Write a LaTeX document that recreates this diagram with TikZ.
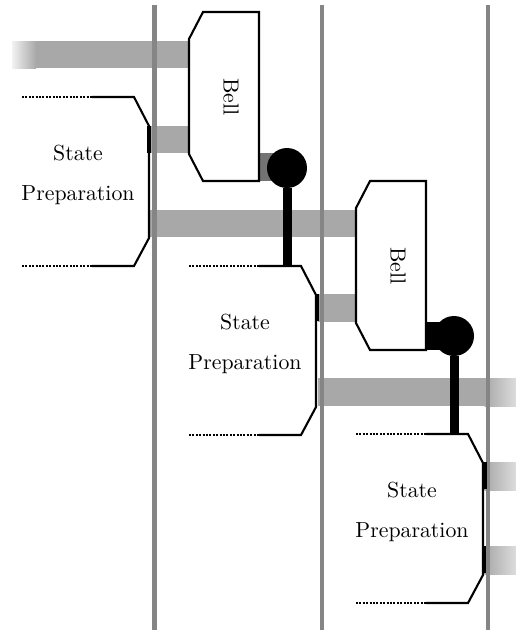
\documentclass[tikz,border=0pt]{standalone}
\definecolor{bandgray}{gray}{0.66}
\definecolor{railgray}{gray}{0.52}
\tikzset{
  lbl/.style={font=\normalsize,scale=2.18,inner sep=0pt},
  blockline/.style={line width=2.1pt,line join=miter},
  dotline/.style={line width=2.2pt,dash pattern=on 2pt off 1.4pt},
  bulb/.style={circle,fill=black,minimum size=40pt,inner sep=0pt},
  stem/.style={line width=9pt}
}
% #1 left end, #2 top, #3 name
\newcommand{\SPblock}[3]{
  \draw[dotline] (#1,#2)--(#1+70,#2);
  \draw[dotline] (#1,#2+169)--(#1+70,#2+169);
  \draw[blockline] (#1+70,#2)--(#1+112,#2)--(#1+127,#2+29)--(#1+127,#2+141)--(#1+112,#2+169)--(#1+70,#2+169);
  \coordinate (#3top) at (#1+98,#2);
  \node[lbl] (#3a) at (#1+56,#2+56) {State};
  \node[lbl] (#3b) at (#1+56,#2+98) {Preparation};
}
% #1 left, #2 top, #3 name
\newcommand{\BellBlock}[3]{
  \filldraw[blockline,fill=white] (#1+14,#2)--(#1+70,#2)--(#1+70,#2+169)--(#1+14,#2+169)--(#1,#2+142)--(#1,#2+27)--cycle;
  \node[lbl,rotate=-90] (#3) at (#1+42,#2+85) {Bell};
}
\newcommand{\Band}[4]{\fill[bandgray] (#1,#2) rectangle (#3,#4);}

\begin{document}
\begin{tikzpicture}[x=1pt,y=-1pt]
  \useasboundingbox (0,0) rectangle (516,630);
  % bands
  \fill[left color=bandgray!15,right color=bandgray] (12,41) rectangle (36,68);
  \Band{35.5}{41}{189}{68}
  \Band{150}{126}{189}{153}
  \Band{150}{210}{356}{237}
  \Band{318}{294}{356}{322}
  \Band{318}{378}{485}{406}
  \fill[left color=bandgray,right color=bandgray!25] (484.5,378) rectangle (524,406);
  \fill[left color=bandgray,right color=bandgray!25] (484.5,462) rectangle (524,490);
  \fill[left color=bandgray,right color=bandgray!25] (484.5,546) rectangle (524,574);
  \fill[black!55] (259,153) rectangle (280,181);
  % rails
  \foreach\x in{154.5,322,488}{\draw[railgray,line width=4.5pt] (\x,5)--(\x,630);}
  % blocks
  \SPblock{22}{97}{spa}
  \SPblock{189}{266}{spb}
  \SPblock{356}{434}{spc}
  \BellBlock{189}{12}{bella}
  \BellBlock{356}{181}{bellb}
  % thick ends
  \foreach\x/\y in{149/126,317/294,484.5/462}{\fill (\x-2,\y) rectangle (\x+2,\y+27);}
  \fill (483,546) rectangle (486,573);
  \fill (426,322) rectangle (442,350);
  % measurement
  \node[bulb] (dota) at (287,168) {};
  \node[bulb] (dotb) at (454,336) {};
  \draw[stem] (dota)--(spbtop);
  \draw[stem] (dotb)--(spctop);
\end{tikzpicture}
\end{document}
